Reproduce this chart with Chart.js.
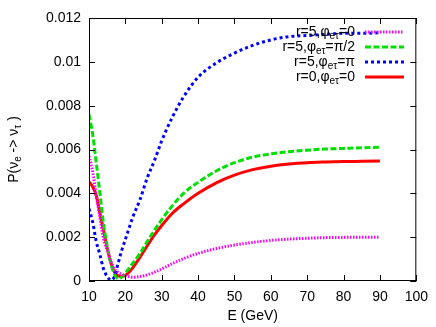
<!DOCTYPE html>
<html>
<head>
<meta charset="utf-8">
<script src="https://cdn.jsdelivr.net/npm/chart.js@4/dist/chart.umd.min.js"></script>
<style>
body{margin:0;background:#fff;}
canvas{display:block;}
</style>
</head>
<body>
<canvas id="chart" width="436" height="327"></canvas>
<script>

// ================= DATA =================

const energy=[10,11,12,13,14,15,16,17,18,19,20,21,22,24,26,28,30,33,36,40,45,50,55,60,65,70,75,80,85,90];

const probR5Phi0=[0.0057,0.0050,0.0039,0.0029,0.0019,0.0014,0.0009,0.00055,0.0004,0.0003,0.00024,0.0002,0.00017,0.0002,0.00028,0.0004,0.00055,0.0008,0.00102,0.00126,0.00148,0.00164,0.00176,0.00185,0.00191,0.00195,0.00198,0.00199,0.002,0.002];

const probR5PhiHalfPi=[0.0076,0.0067,0.0054,0.0040,0.0026,0.0016,0.0008,0.0003,0.0001,0.00018,0.00036,0.00058,0.0008,0.00125,0.0018,0.00232,0.0028,0.00345,0.0040,0.0045,0.00502,0.0054,0.00565,0.0058,0.0059,0.00597,0.00602,0.00605,0.00608,0.0061];

const probR5PhiPi=[0.0033,0.0027,0.0018,0.0012,0.00055,0.0002,0.00004,0.0002,0.0008,0.0014,0.0019,0.0024,0.0029,0.0037,0.0047,0.0055,0.0064,0.0075,0.0084,0.0093,0.00995,0.0104,0.01075,0.0110,0.01115,0.0112,0.01125,0.0113,0.0113,0.01133];

const probR0Phi0=[0.00454,0.0043,0.0039,0.0031,0.0023,0.0015,0.00085,0.0004,0.00024,0.0002,0.00026,0.0004,0.0006,0.00108,0.0016,0.0021,0.00253,0.0031,0.00352,0.0040,0.00448,0.00483,0.00508,0.00524,0.00534,0.0054,0.00543,0.00545,0.00546,0.00547];

const xTicks=[10,20,30,40,50,60,70,80,90,100];
const xTickLabels=["10","20","30","40","50","60","70","80","90","100"];
const yTicks=[0,0.002,0.004,0.006,0.008,0.01,0.012];
const yTickLabels=["0","0.002","0.004","0.006","0.008","0.01","0.012"];

const seriesLabels=["r=5,φ_{eτ}=0","r=5,φ_{eτ}=π/2","r=5,φ_{eτ}=π","r=0,φ_{eτ}=0"];
const xTitle="E (GeV)";
const yTitle="P(ν_{e} -> ν_{τ} )";

// ================= HELPERS =================

const FONT="'Liberation Sans', Arial, sans-serif";

function richParts(str){
const parts=[];
const re=/_\{([^}]*)\}/g;
let last=0,m;
while((m=re.exec(str))){
if(m.index>last) parts.push({t:str.slice(last,m.index),sub:false});
parts.push({t:m[1],sub:true});
last=re.lastIndex;
}
if(last<str.length) parts.push({t:str.slice(last),sub:false});
return parts;
}

function drawRich(ctx,str,x,y,align){
const parts=richParts(str);
const mainFont="14px "+FONT, subFont="10px "+FONT;
let w=0;
parts.forEach(p=>{ctx.font=p.sub?subFont:mainFont; p.w=ctx.measureText(p.t).width; w+=p.w;});
let cx=align==="right"?x-w:(align==="center"?x-w/2:x);
ctx.textAlign="left";
ctx.textBaseline="middle";
ctx.fillStyle="#000";
parts.forEach(p=>{
ctx.font=p.sub?subFont:mainFont;
ctx.fillText(p.t,cx,p.sub?y+4:y);
cx+=p.w;
});
}

// ================= PLUGIN: FRAME / TICKS / KEY =================

const gnuFrame={
id:"gnuFrame",
afterDraw(chart){
const {ctx,chartArea:a,scales:{x,y}}=chart;
ctx.save();
ctx.strokeStyle="#000";
ctx.lineWidth=1;
ctx.setLineDash([]);
ctx.beginPath();
x.ticks.forEach(t=>{
const px=Math.round(x.getPixelForValue(t.value))+0.5;
ctx.moveTo(px,a.bottom); ctx.lineTo(px,a.bottom-6);
ctx.moveTo(px,a.top); ctx.lineTo(px,a.top+6);
});
y.ticks.forEach(t=>{
const py=Math.round(y.getPixelForValue(t.value))+0.5;
ctx.moveTo(a.left,py); ctx.lineTo(a.left+6,py);
ctx.moveTo(a.right,py); ctx.lineTo(a.right-6,py);
});
ctx.stroke();
ctx.strokeRect(a.left+0.5,a.top+0.5,a.right-a.left-1,a.bottom-a.top-1);

// key
chart.data.datasets.forEach((ds,i)=>{
const yy=32+15*i;
drawRich(ctx,seriesLabels[i],355,yy,"right");
ctx.beginPath();
ctx.strokeStyle=ds.borderColor;
ctx.lineWidth=ds.borderWidth;
ctx.setLineDash(ds.borderDash||[]);
ctx.moveTo(365,yy);
ctx.lineTo(404,yy);
ctx.stroke();
});
ctx.setLineDash([]);

// y title
ctx.translate(14,(a.top+a.bottom)/2);
ctx.rotate(-Math.PI/2);
drawRich(ctx,yTitle,0,0,"center");
ctx.restore();
}
};

// ================= CHART =================

const pts=arr=>arr.map((v,i)=>({x:energy[i],y:v}));

new Chart(document.getElementById("chart"),{

type:"line",

data:{
datasets:[
{label:"r=5,φeτ=0",data:pts(probR5Phi0),borderColor:"#ff00ff",borderWidth:3,borderDash:[1.5,1.5]},
{label:"r=5,φeτ=π/2",data:pts(probR5PhiHalfPi),borderColor:"#00e000",borderWidth:3,borderDash:[6,2.5]},
{label:"r=5,φeτ=π",data:pts(probR5PhiPi),borderColor:"#0000ff",borderWidth:3,borderDash:[3,3]},
{label:"r=0,φeτ=0",data:pts(probR0Phi0),borderColor:"#ff0000",borderWidth:3}
]
},

options:{
responsive:false,
animation:false,
devicePixelRatio:1,
layout:{padding:{left:0,right:17,top:18,bottom:0}},
elements:{
point:{radius:0},
line:{cubicInterpolationMode:"monotone",fill:false,borderCapStyle:"butt"}
},
plugins:{
legend:{display:false},
tooltip:{enabled:false}
},
scales:{
x:{
type:"linear",
min:10,max:100,
afterFit:s=>{s.height=46;},
afterBuildTicks:s=>{s.ticks=xTicks.map(v=>({value:v}));},
grid:{display:false,drawTicks:false},
border:{display:false},
ticks:{
padding:8,color:"#000",font:{size:14,family:FONT},maxRotation:0,autoSkip:false,
callback:(v,i)=>xTickLabels[i]
},
title:{display:true,text:xTitle,color:"#000",font:{size:14,family:FONT},padding:{top:4,bottom:2}}
},
y:{
type:"linear",
min:0,max:0.012,
afterFit:s=>{s.width=89;},
afterBuildTicks:s=>{s.ticks=yTicks.map(v=>({value:v}));},
grid:{display:false,drawTicks:false},
border:{display:false},
ticks:{
padding:8,color:"#000",font:{size:14,family:FONT},autoSkip:false,
callback:(v,i)=>yTickLabels[i]
}
}
}
},

plugins:[gnuFrame]

});

</script>
</body>
</html>
